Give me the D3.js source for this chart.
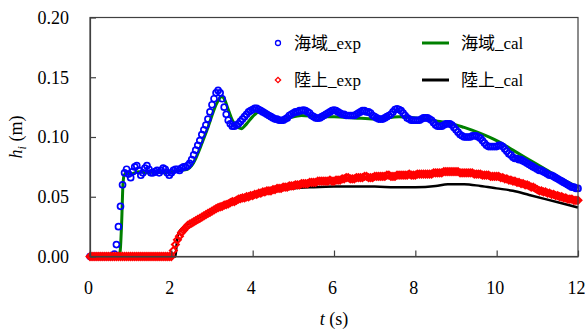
<!DOCTYPE html>
<html>
<head>
<meta charset="utf-8">
<script src="https://cdn.jsdelivr.net/npm/d3@7"></script>
</head>
<body style="margin:0;background:#fff">
<svg id="chart" width="585" height="329" font-family="Liberation Serif, Noto Sans CJK JP"></svg>
<script>
"use strict";

// sampling interval of the measured series (s)
var expStep = 0.05;

// 海域 measured, one row per second
var seaExp = [
  0,0,0,0,0,0,0,0,0,0,0,0,0.002,0.010,0.025,0.042,0.060,0.070,0.073,0.069,
  0.066,0.071,0.075,0.076,0.072,0.068,0.070,0.074,0.076,0.073,0.070,0.070,0.071,0.072,0.070,0.072,0.074,0.073,0.070,0.068,
  0.070,0.072,0.073,0.073,0.072,0.074,0.075,0.075,0.076,0.078,0.081,0.085,0.089,0.093,0.097,0.102,0.106,0.110,0.115,0.121,
  0.127,0.132,0.137,0.139,0.137,0.132,0.125,0.119,0.114,0.111,0.109,0.109,0.110,0.111,0.113,0.115,0.117,0.119,0.121,0.122,
  0.123,0.124,0.124,0.123,0.122,0.121,0.120,0.119,0.118,0.117,0.116,0.115,0.115,0.114,0.114,0.114,0.115,0.116,0.118,0.119,
  0.120,0.121,0.121,0.122,0.122,0.1225,0.122,0.121,0.120,0.118,0.117,0.116,0.1157,0.116,0.117,0.118,0.119,0.120,0.121,0.122,
  0.1225,0.122,0.121,0.120,0.119,0.119,0.118,0.118,0.118,0.118,0.118,0.119,0.120,0.121,0.122,0.122,0.121,0.121,0.120,0.118,
  0.117,0.116,0.115,0.115,0.115,0.116,0.117,0.118,0.119,0.121,0.123,0.1235,0.123,0.122,0.120,0.118,0.116,0.115,0.114,0.114,
  0.114,0.114,0.114,0.115,0.116,0.116,0.116,0.115,0.114,0.112,0.110,0.109,0.109,0.109,0.110,0.111,0.111,0.111,0.110,0.108,
  0.106,0.104,0.102,0.101,0.100,0.100,0.100,0.100,0.101,0.101,0.101,0.100,0.099,0.097,0.095,0.093,0.092,0.092,0.092,0.092,
  0.092,0.093,0.093,0.092,0.090,0.088,0.086,0.085,0.083,0.082,0.082,0.081,0.081,0.080,0.079,0.078,0.077,0.076,0.075,0.074,
  0.073,0.072,0.072,0.071,0.070,0.069,0.068,0.068,0.067,0.066,0.065,0.064,0.063,0.062,0.061,0.060,0.059,0.058,0.058,0.057,
  0.057
];

// 陸上 measured
var landExp = [
  0,0,0,0,0,0,0,0,0,0,0,0,0,0,0,0,0,0,0,0,
  0,0,0,0,0,0,0,0,0,0,0,0,0,0,0,0,0,0,0,0,
  0,0.005,0.010,0.014,0.017,0.020,0.022,0.024,0.026,0.027,0.028,0.029,0.030,0.031,0.032,0.033,0.034,0.035,0.036,0.037,
  0.038,0.039,0.040,0.041,0.0415,0.042,0.043,0.0435,0.044,0.045,0.046,0.046,0.047,0.048,0.0485,0.049,0.049,0.050,0.050,0.051,
  0.051,0.052,0.052,0.053,0.053,0.054,0.054,0.055,0.055,0.055,0.056,0.056,0.057,0.057,0.057,0.058,0.058,0.058,0.059,0.059,
  0.059,0.060,0.060,0.060,0.061,0.061,0.061,0.061,0.062,0.062,0.062,0.062,0.063,0.063,0.063,0.063,0.063,0.063,0.064,0.063,
  0.063,0.064,0.064,0.064,0.065,0.065,0.066,0.066,0.065,0.065,0.065,0.066,0.066,0.066,0.066,0.067,0.067,0.066,0.066,0.066,
  0.067,0.067,0.067,0.067,0.067,0.067,0.068,0.068,0.067,0.067,0.067,0.068,0.068,0.068,0.068,0.068,0.068,0.069,0.068,0.068,
  0.068,0.069,0.069,0.069,0.069,0.069,0.069,0.069,0.069,0.070,0.070,0.070,0.070,0.070,0.071,0.071,0.071,0.071,0.071,0.071,
  0.071,0.071,0.070,0.070,0.070,0.070,0.070,0.070,0.070,0.069,0.069,0.069,0.069,0.068,0.068,0.068,0.068,0.067,0.067,0.067,
  0.067,0.067,0.066,0.066,0.065,0.065,0.064,0.064,0.063,0.063,0.062,0.062,0.061,0.061,0.060,0.060,0.059,0.058,0.058,0.057,
  0.056,0.055,0.055,0.054,0.054,0.053,0.053,0.052,0.052,0.051,0.051,0.050,0.050,0.049,0.049,0.048,0.048,0.048,0.047,0.047,
  0.047
];

// 海域 calculated [t, h]
var seaCal = [
  [0,0],[0.7,0],[0.74,0.004],[0.78,0.03],[0.81,0.06],[0.84,0.068],[0.9,0.070],[1.0,0.069],[1.2,0.071],
  [1.4,0.070],[1.6,0.071],[1.8,0.070],[2.0,0.071],[2.2,0.072],[2.4,0.073],[2.5,0.076],[2.6,0.082],
  [2.7,0.090],[2.8,0.099],[2.9,0.108],[3.0,0.118],[3.1,0.127],[3.2,0.133],[3.25,0.134],[3.3,0.132],
  [3.4,0.123],[3.5,0.114],[3.6,0.109],[3.72,0.107],[3.85,0.111],[4.0,0.117],[4.15,0.121],[4.3,0.121],
  [4.5,0.117],[4.7,0.114],[4.9,0.116],[5.2,0.118],[5.6,0.117],[6.0,0.117],[6.5,0.116],[7.0,0.115],
  [7.6,0.117],[8.0,0.116],[8.3,0.115],[8.6,0.113],[8.8,0.112],[9.2,0.108],[9.6,0.103],[10.0,0.097],
  [10.4,0.089],[10.8,0.081],[11.2,0.073],[11.6,0.065],[12.0,0.058]
];

// 陸上 calculated [t, h]
var landCal = [
  [0,0],[2.1,0],[2.13,0.01],[2.17,0.019],[2.25,0.023],[2.4,0.027],[2.6,0.031],[2.8,0.034],[3.0,0.038],
  [3.2,0.041],[3.5,0.045],[3.8,0.048],[4.2,0.052],[4.6,0.055],[5.0,0.057],[5.5,0.058],[6.0,0.0585],
  [6.5,0.0585],[7.0,0.0585],[7.5,0.058],[8.0,0.058],[8.5,0.059],[8.8,0.0605],[9.2,0.0605],[9.6,0.059],
  [10.0,0.057],[10.4,0.055],[10.8,0.0515],[11.2,0.048],[11.6,0.0445],[12.0,0.041]
];

var xTicks = [0, 2, 4, 6, 8, 10, 12];
var yTicks = [0, 0.05, 0.10, 0.15, 0.20];

var legendItems = [
  { label: "海域_exp", kind: "circle", color: "#0000ff", col: 0, row: 0 },
  { label: "海域_cal", kind: "line", color: "#008000", col: 1, row: 0 },
  { label: "陸上_exp", kind: "diamond", color: "#ff0000", col: 0, row: 1 },
  { label: "陸上_cal", kind: "line", color: "#000000", col: 1, row: 1 }
];

var FONT = "Liberation Serif, Noto Sans CJK JP";

var margin = { left: 90, top: 17.5, right: 7, bottom: 72.5 };
var width = 585 - margin.left - margin.right,
    height = 329 - margin.top - margin.bottom;

var svg = d3.select("#chart");
var graph = svg.append("g")
  .attr("transform", "translate(" + margin.left + "," + margin.top + ")");

var x = d3.scaleLinear().domain([0, 12]).range([0, width]);
var y = d3.scaleLinear().domain([0, 0.20]).range([height, 0]);

function withTimes(values) {
  return values.map(function(v, i) { return [i * expStep, v]; });
}

var line = d3.line()
  .x(function(d) { return x(d[0]); })
  .y(function(d) { return y(d[1]); })
  .curve(d3.curveMonotoneX);

graph.append("path")
  .datum(seaCal)
  .attr("fill", "none")
  .attr("stroke", "#008000")
  .attr("stroke-width", 3)
  .attr("d", line);

graph.append("path")
  .datum(landCal)
  .attr("fill", "none")
  .attr("stroke", "#000")
  .attr("stroke-width", 2.5)
  .attr("d", line);

graph.append("g").selectAll("circle")
  .data(withTimes(seaExp))
  .enter().append("circle")
    .attr("cx", function(d) { return x(d[0]); })
    .attr("cy", function(d) { return y(d[1]); })
    .attr("r", 3)
    .attr("fill", "none")
    .attr("stroke", "#0000ff")
    .attr("stroke-width", 1.7);

var diamond = d3.symbol(d3.symbolSquare, 24);

graph.append("g").selectAll("path")
  .data(withTimes(landExp))
  .enter().append("path")
    .attr("d", diamond)
    .attr("transform", function(d) { return "translate(" + x(d[0]) + "," + y(d[1]) + ") rotate(45)"; })
    .attr("fill", "none")
    .attr("stroke", "#ff0000")
    .attr("stroke-width", 2);

// frame
graph.append("rect")
  .attr("width", width)
  .attr("height", height)
  .attr("fill", "none")
  .attr("stroke", "#404040")
  .attr("stroke-width", 1.2);

var xAxis = d3.axisBottom(x).tickValues(xTicks).tickSizeInner(-6).tickSizeOuter(0)
  .tickPadding(25).tickFormat(d3.format("d"));
var yAxis = d3.axisLeft(y).tickValues(yTicks).tickSizeInner(-6).tickSizeOuter(0)
  .tickPadding(21).tickFormat(d3.format(".2f"));

var gx = graph.append("g")
  .attr("transform", "translate(0," + height + ")")
  .call(xAxis);
gx.selectAll("text").attr("dx", "-2");

var gy = graph.append("g").call(yAxis);

[gx, gy].forEach(function(g) {
  g.attr("font-family", FONT).attr("font-size", 18);
  g.selectAll("text").attr("font-family", FONT).attr("fill", "#000");
  g.select(".domain").attr("stroke", "#404040").attr("stroke-width", 1.2);
  g.selectAll(".tick line").attr("stroke", "#404040").attr("stroke-width", 1.2);
});

// axis titles
var xTitle = svg.append("text")
  .attr("x", margin.left + width / 2)
  .attr("y", 325)
  .attr("text-anchor", "middle")
  .attr("font-family", FONT)
  .attr("font-size", 18);
xTitle.append("tspan").attr("font-style", "italic").text("t");
xTitle.append("tspan").text(" (s)");

var yTitle = svg.append("text")
  .attr("transform", "translate(22," + (margin.top + height / 2) + ") rotate(-90)")
  .attr("text-anchor", "middle")
  .attr("font-family", FONT)
  .attr("font-size", 18);
yTitle.append("tspan").attr("font-style", "italic").text("h");
yTitle.append("tspan").attr("font-style", "italic").attr("font-size", 12).attr("dy", 4).text("i");
yTitle.append("tspan").attr("dy", -4).text(" (m)");

// legend
var legend = svg.append("g");
var colX = [278, 422], rowY = [43, 80];

legendItems.forEach(function(d) {
  var lx = colX[d.col], ly = rowY[d.row];
  if (d.kind === "circle") {
    legend.append("circle").attr("cx", lx).attr("cy", ly).attr("r", 2.5)
      .attr("fill", "none").attr("stroke", d.color).attr("stroke-width", 1.3);
  } else if (d.kind === "diamond") {
    legend.append("path").attr("d", d3.symbol(d3.symbolSquare, 14))
      .attr("transform", "translate(" + lx + "," + ly + ") rotate(45)")
      .attr("fill", "none").attr("stroke", d.color).attr("stroke-width", 1.3);
  } else {
    legend.append("line").attr("x1", lx).attr("x2", lx + 27).attr("y1", ly).attr("y2", ly)
      .attr("stroke", d.color).attr("stroke-width", 3);
  }
  legend.append("text")
    .attr("x", d.kind === "line" ? lx + 39 : lx + 16)
    .attr("y", ly + 6)
    .attr("font-family", FONT)
    .attr("font-size", 17)
    .text(d.label);
});
</script>
</body>
</html>
